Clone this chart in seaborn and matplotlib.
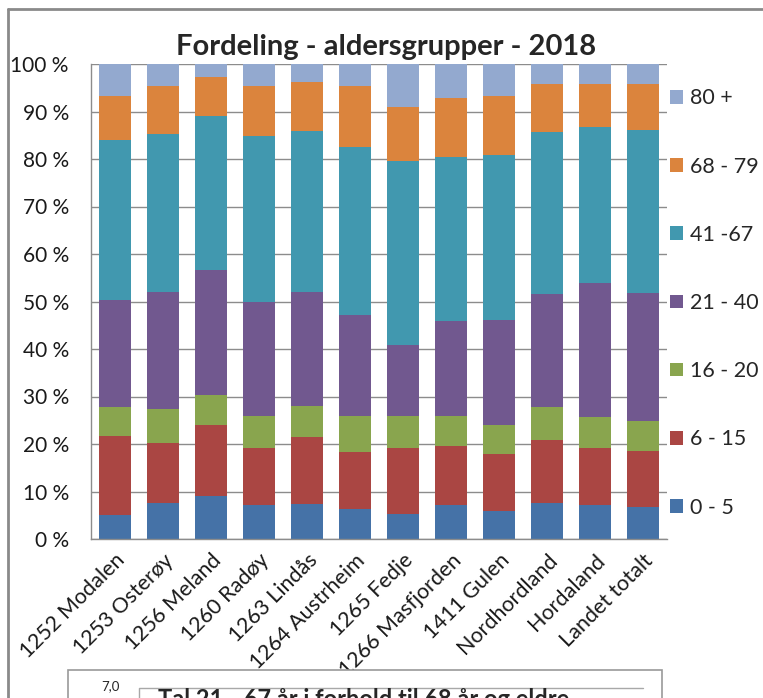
import numpy as np
import pandas as pd
import matplotlib.pyplot as plt
import seaborn as sns
from matplotlib.patches import Patch, Rectangle
from matplotlib.lines import Line2D

sns.set_style('white')
plt.rcParams['font.family'] = ['Lato', 'DejaVu Sans']

# ── Data (percent per age group) ───────────────────────────────
kommuner = ['1252 Modalen', '1253 Osterøy', '1256 Meland', '1260 Radøy',
            '1263 Lindås', '1264 Austrheim', '1265 Fedje', '1266 Masfjorden',
            '1411 Gulen', 'Nordhordland', 'Hordaland', 'Landet totalt']
grupper = ['0 - 5', '6 - 15', '16 - 20', '21 - 40', '41 -67', '68 - 79', '80 +']
farger = ['#4572A7', '#AA4643', '#89A54E', '#71588F', '#4198AF', '#DB843D', '#93A9CF']

alder_0_5   = [5.1, 7.6, 9.1, 7.2, 7.4, 6.3, 5.3, 7.1, 5.8, 7.5, 7.1, 6.7]
alder_6_15  = [16.5, 12.7, 14.8, 12.0, 14.0, 12.1, 13.8, 12.5, 12.1, 13.4, 12.1, 11.9]
alder_16_20 = [6.1, 7.0, 6.5, 6.6, 6.7, 7.4, 6.7, 6.2, 6.2, 6.8, 6.4, 6.3]
alder_21_40 = [22.6, 24.7, 26.3, 24.1, 23.9, 21.3, 15.0, 20.1, 22.0, 23.9, 28.3, 26.9]
alder_41_67 = [33.8, 33.2, 32.3, 34.9, 34.0, 35.4, 38.7, 34.6, 34.7, 34.0, 32.8, 34.4]
alder_68_79 = [9.1, 10.1, 8.2, 10.5, 10.2, 12.8, 11.4, 12.3, 12.4, 10.1, 9.0, 9.5]
alder_80    = [6.8, 4.7, 2.8, 4.7, 3.8, 4.7, 9.1, 7.2, 6.8, 4.3, 4.3, 4.3]

df = pd.DataFrame({'0 - 5': alder_0_5, '6 - 15': alder_6_15, '16 - 20': alder_16_20,
                   '21 - 40': alder_21_40, '41 -67': alder_41_67,
                   '68 - 79': alder_68_79, '80 +': alder_80}, index=kommuner)
df = df.div(df.sum(axis=1), axis=0) * 100
cum = df.cumsum(axis=1)

W, H = 763, 698
fig = plt.figure(figsize=(W / 100, H / 100), dpi=100)
ax = fig.add_axes([91 / W, 1 - 539 / H, (667 - 91) / W, (539 - 64) / H])

# overlapping cumulative bars, top group first
for g, c in reversed(list(zip(grupper, farger))):
    sns.barplot(x=kommuner, y=cum[g].values, color=c, saturation=1,
                width=0.65, linewidth=0, errorbar=None, ax=ax)

ax.set_ylim(0, 100)
ax.set_xlim(-0.5, 11.5)
ax.set_yticks(np.arange(0, 101, 10))
ax.set_yticklabels([f'{v} %' for v in range(0, 101, 10)])
ax.yaxis.grid(True, color='#8c8c8c', linewidth=1)
ax.set_axisbelow(True)
for s in ['top', 'right']:
    ax.spines[s].set_visible(False)
for s in ['left', 'bottom']:
    ax.spines[s].set_color('#8c8c8c')
    ax.spines[s].set_linewidth(1)
ax.tick_params(axis='y', length=0, pad=16, labelsize=15, colors='#1a1a1a')
ax.tick_params(axis='x', length=0, pad=8, labelsize=15.5, colors='#1a1a1a')
plt.setp(ax.get_xticklabels(), rotation=45, ha='right', rotation_mode='anchor')
ax.set_xlabel('')
ax.set_ylabel('')

fig.text(386 / W, 1 - 47 / H, 'Fordeling - aldersgrupper - 2018',
         ha='center', va='center', fontsize=21, fontweight='bold')

handles = [Patch(facecolor=c, edgecolor='none') for c in farger][::-1]
fig.legend(handles, grupper[::-1], loc='center left',
           bbox_to_anchor=(670 / W, 1 - 303 / H), frameon=False,
           fontsize=15.5, labelspacing=2.24, handlelength=0.6,
           handleheight=0.6, handletextpad=0.35, borderpad=0,
           borderaxespad=0)

# outer chart border (continues past the image edge)
fig.lines.append(Line2D([8 / W, 8 / W], [1 - 9 / H, -0.1], transform=fig.transFigure,
                        color='#8a8a8a', linewidth=2))
fig.lines.append(Line2D([8 / W, 1.1], [1 - 9 / H, 1 - 9 / H], transform=fig.transFigure,
                        color='#8a8a8a', linewidth=2))

# next chart peeking in at the bottom
fig.patches.append(Rectangle((68 / W, -0.1), (662 - 68) / W, 0.1 + 1 - 670 / H,
                             transform=fig.transFigure, facecolor='white',
                             edgecolor='#9a9a9a', linewidth=1.2, zorder=5))
fig.lines.append(Line2D([139 / W, 139 / W, 643 / W], [-0.1, 1 - 688 / H, 1 - 688 / H],
                        transform=fig.transFigure, color='#a8a8a8', linewidth=1,
                        zorder=6))
fig.text(110 / W, 1 - 686 / H, '7,0', ha='center', va='center', fontsize=9.5, zorder=7)
fig.text(364 / W, 1 - 688 / H, 'Tal 21 - 67 år i forhold til 68 år og eldre',
         ha='center', va='top', fontsize=17, fontweight='bold', zorder=7)

plt.savefig('out.png', dpi=100, facecolor='white')
